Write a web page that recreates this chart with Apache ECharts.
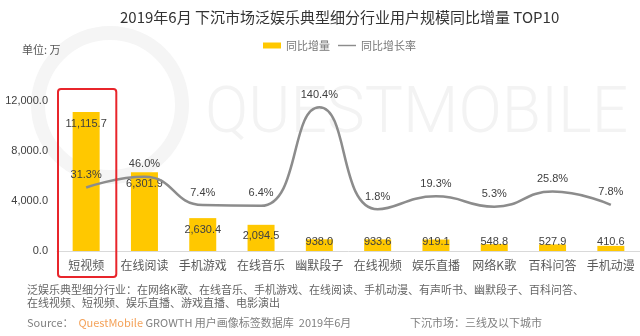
<!DOCTYPE html>
<html>
<head>
<meta charset="utf-8">
<script src="https://cdn.jsdelivr.net/npm/echarts@6/dist/echarts.min.js"></script>
<style>
  html, body { margin: 0; padding: 0; background: #fff; }
  #chart { width: 640px; height: 336px; }
</style>
</head>
<body>
<div id="chart"></div>
<script>
// Year-on-year growth of users in lower-tier markets, top 10 entertainment segments (June 2019)
const categories = ['短视频', '在线阅读', '手机游戏', '在线音乐', '幽默段子', '在线视频', '娱乐直播', '网络K歌', '百科问答', '手机动漫'];
const increments = [11115.7, 6301.9, 2630.4, 2094.5, 938.0, 933.6, 919.1, 548.8, 527.9, 410.6];   // 万
const growthRates = [31.3, 46.0, 7.4, 6.4, 140.4, 1.8, 19.3, 5.3, 25.8, 7.8];                      // %
const yTicks = [0, 4000, 8000, 12000];

const fmt1 = v => Number(v).toLocaleString('en-US', { minimumFractionDigits: 1, maximumFractionDigits: 1 });
const FONT = '"Liberation Sans", "Noto Sans CJK SC", sans-serif';
const CJK = '"Noto Sans CJK SC", sans-serif';

const chart = echarts.init(document.getElementById('chart'), null, { renderer: 'canvas' });

// Short bars get their value label resting near the baseline instead of inside the top
const barData = increments.map(v => ({
  value: v,
  label: v < 1500 ? { position: 'insideBottom', distance: 4 } : { position: 'insideTop', distance: 6 }
}));

// thin horizontal stroke centred in a 20x6 box, used as the legend icon of the line series
const LINE_ICON = 'path://M0,0 M20,6 M0,2.2 L20,2.2 L20,3.8 L0,3.8 Z';

const option = {
  backgroundColor: '#ffffff',
  animation: false,
  textStyle: { fontFamily: FONT },
  title: {
    text: '2019年6月 下沉市场泛娱乐典型细分行业用户规模同比增量 TOP10',
    left: 115,
    top: 5,
    textStyle: { fontFamily: CJK, fontSize: 15, fontWeight: 'normal', color: '#333333' }
  },
  legend: {
    left: 258,
    top: 35,
    itemWidth: 18,
    itemHeight: 6,
    itemGap: 8,
    textStyle: { fontFamily: CJK, fontSize: 11, color: '#777777' },
    data: [
      { name: '同比增量', icon: 'rect' },
      { name: '同比增长率', icon: LINE_ICON, itemStyle: { color: '#8c8c8c' } }
    ]
  },
  grid: { left: 57, right: 0, top: 101, bottom: 85, containLabel: false },
  xAxis: {
    type: 'category',
    data: categories,
    axisLine: { show: true, lineStyle: { color: '#d9d9d9', width: 1 } },
    axisTick: { show: false },
    axisLabel: { margin: 8, fontFamily: CJK, fontSize: 12, color: '#595959', interval: 0 }
  },
  yAxis: [
    {
      type: 'value',
      min: yTicks[0],
      max: yTicks[yTicks.length - 1],
      interval: yTicks[1] - yTicks[0],
      axisLine: { show: false },
      axisTick: { show: false },
      splitLine: { show: false },
      axisLabel: { margin: 9, fontSize: 11, color: '#404040', formatter: fmt1 }
    },
    {
      type: 'value',
      min: -55,
      max: 149,
      show: false,
      splitLine: { show: false }
    }
  ],
  series: [
    {
      name: '同比增量',
      type: 'bar',
      data: barData,
      barWidth: 27,
      itemStyle: { color: '#FFC800' },
      label: {
        show: true,
        fontSize: 11,
        color: '#404040',
        formatter: p => fmt1(p.value)
      },
      z: 2
    },
    {
      name: '同比增长率',
      type: 'line',
      yAxisIndex: 1,
      data: growthRates,
      smooth: 0.5,
      symbol: 'circle',
      symbolSize: 0,
      showSymbol: true,
      lineStyle: { color: '#8c8c8c', width: 2.5 },
      itemStyle: { color: '#8c8c8c' },
      label: {
        show: true,
        position: 'top',
        distance: 7,
        fontSize: 11,
        color: '#404040',
        formatter: p => p.value.toFixed(1) + '%'
      },
      z: 3
    }
  ]
};

chart.setOption(option);

// Annotation box around the first category, positioned from the axes
const c0 = chart.convertToPixel({ xAxisIndex: 0 }, 0);
const c1 = chart.convertToPixel({ xAxisIndex: 0 }, 1);
const band = c1 - c0;
const yTop = chart.convertToPixel({ yAxisIndex: 0 }, yTicks[yTicks.length - 1]);
const yZero = chart.convertToPixel({ yAxisIndex: 0 }, 0);

chart.setOption({
  graphic: [
    // faint brand watermark
    {
      type: 'circle', silent: true, z: -10,
      shape: { cx: 110, cy: 105, r: 72 },
      style: { fill: 'none', stroke: '#f5f5f5', lineWidth: 14 }
    },
    {
      type: 'text', silent: true, z: -10,
      left: 205, top: 84,
      style: { text: 'QUESTMOBILE', fontFamily: 'Roboto, sans-serif', fontWeight: 300, fontSize: 64, fill: '#f3f3f3' }
    },
    {
      type: 'rect', z: 10,
      shape: { x: c0 - band / 2 + 1, y: yTop - 12, width: band, height: (yZero + 26) - (yTop - 12), r: 3 },
      style: { fill: 'none', stroke: '#e8252b', lineWidth: 2 }
    },
    {
      type: 'text', left: 22, top: 44,
      style: { text: '单位: 万', fontFamily: CJK, fontSize: 11, fill: '#555555' }
    },
    {
      type: 'text', left: 27, top: 283,
      style: {
        text: '泛娱乐典型细分行业：在网络K歌、在线音乐、手机游戏、在线阅读、手机动漫、有声听书、幽默段子、百科问答、\n在线视频、短视频、娱乐直播、游戏直播、电影演出',
        fontFamily: CJK, fontSize: 11, lineHeight: 13, fill: '#666666'
      }
    },
    {
      type: 'text', left: 27, top: 317,
      style: {
        text: '{g|Source：  }{o|QuestMobile}{g| GROWTH 用户画像标签数据库  2019年6月}',
        rich: {
          g: { fontFamily: CJK, fontSize: 11, fill: '#808080' },
          o: { fontFamily: CJK, fontSize: 11, fill: '#f4a259' }
        }
      }
    },
    {
      type: 'text', left: 410, top: 317,
      style: { text: '下沉市场：三线及以下城市', fontFamily: CJK, fontSize: 11, fill: '#808080' }
    }
  ]
});
</script>
</body>
</html>
